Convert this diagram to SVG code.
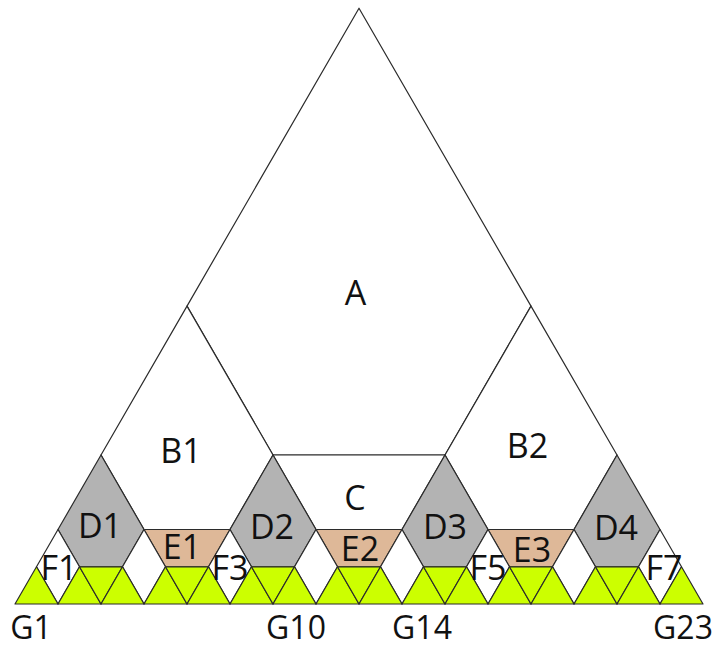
<svg xmlns="http://www.w3.org/2000/svg" width="717" height="648" viewBox="0 0 717 648">
<style>
.w{fill:#ffffff;stroke:#2b2b2b;stroke-width:1.2;stroke-linejoin:round}
.d{fill:#b3b3b3;stroke:#2b2b2b;stroke-width:1.2;stroke-linejoin:round}
.e{fill:#deb898;stroke:#2b2b2b;stroke-width:1.2;stroke-linejoin:round}
.g{fill:#ccff00;stroke:#2b2b2b;stroke-width:1.2;stroke-linejoin:round}
text{font-family:"Open Sans","Liberation Sans",sans-serif;font-size:34px;fill:#111;text-anchor:middle}
text.gl{font-size:32px}
</style>
<rect width="717" height="648" fill="#ffffff"/>
<g id="A"><polygon class="w" points="359,8.2 531,306.1 445,455 273,455 187,306.1"/><text x="355.5" y="305">A</text></g>
<g id="B1"><polygon class="w" points="187,306.1 273,455 230,529.5 144,529.5 101,455"/><text x="181" y="463">B1</text></g>
<g id="B2"><polygon class="w" points="531,306.1 617,455 574,529.5 488,529.5 445,455"/><text x="527.5" y="458">B2</text></g>
<g id="C"><polygon class="w" points="273,455 445,455 402,529.5 316,529.5"/><text x="355" y="510">C</text></g>
<g id="D1"><polygon class="d" points="101,455 144,529.5 122.5,566.8 79.5,566.8 58,529.5"/><text x="100" y="538">D1</text></g>
<g id="D2"><polygon class="d" points="273,455 316,529.5 294.5,566.8 251.5,566.8 230,529.5"/><text x="272" y="539">D2</text></g>
<g id="D3"><polygon class="d" points="445,455 488,529.5 466.5,566.8 423.5,566.8 402,529.5"/><text x="445" y="539">D3</text></g>
<g id="D4"><polygon class="d" points="617,455 660,529.5 638.5,566.8 595.5,566.8 574,529.5"/><text x="616" y="540">D4</text></g>
<g id="E1"><polygon class="e" points="144,529.5 230,529.5 208.5,566.8 165.5,566.8"/><text x="182" y="559">E1</text></g>
<g id="E2"><polygon class="e" points="316,529.5 402,529.5 380.5,566.8 337.5,566.8"/><text x="360" y="561">E2</text></g>
<g id="E3"><polygon class="e" points="488,529.5 574,529.5 552.5,566.8 509.5,566.8"/><text x="532" y="562">E3</text></g>
<g id="F1"><polygon class="w" points="58,529.5 79.5,566.8 58,604 36.5,566.8"/></g>
<g id="F2"><polygon class="w" points="144,529.5 165.5,566.8 144,604 122.5,566.8"/></g>
<g id="F3"><polygon class="w" points="230,529.5 251.5,566.8 230,604 208.5,566.8"/></g>
<g id="F4"><polygon class="w" points="316,529.5 337.5,566.8 316,604 294.5,566.8"/></g>
<g id="F5"><polygon class="w" points="402,529.5 423.5,566.8 402,604 380.5,566.8"/></g>
<g id="F6"><polygon class="w" points="488,529.5 509.5,566.8 488,604 466.5,566.8"/></g>
<g id="F7"><polygon class="w" points="574,529.5 595.5,566.8 574,604 552.5,566.8"/></g>
<g id="F8"><polygon class="w" points="660,529.5 681.5,566.8 660,604 638.5,566.8"/></g>
<g id="G">
<polygon class="g" points="15,604 58,604 36.5,566.8"/>
<polygon class="g" points="58,604 101,604 79.5,566.8"/>
<polygon class="g" points="79.5,566.8 122.5,566.8 101,604"/>
<polygon class="g" points="101,604 144,604 122.5,566.8"/>
<polygon class="g" points="144,604 187,604 165.5,566.8"/>
<polygon class="g" points="165.5,566.8 208.5,566.8 187,604"/>
<polygon class="g" points="187,604 230,604 208.5,566.8"/>
<polygon class="g" points="230,604 273,604 251.5,566.8"/>
<polygon class="g" points="251.5,566.8 294.5,566.8 273,604"/>
<polygon class="g" points="273,604 316,604 294.5,566.8"/>
<polygon class="g" points="316,604 359,604 337.5,566.8"/>
<polygon class="g" points="337.5,566.8 380.5,566.8 359,604"/>
<polygon class="g" points="359,604 402,604 380.5,566.8"/>
<polygon class="g" points="402,604 445,604 423.5,566.8"/>
<polygon class="g" points="423.5,566.8 466.5,566.8 445,604"/>
<polygon class="g" points="445,604 488,604 466.5,566.8"/>
<polygon class="g" points="488,604 531,604 509.5,566.8"/>
<polygon class="g" points="509.5,566.8 552.5,566.8 531,604"/>
<polygon class="g" points="531,604 574,604 552.5,566.8"/>
<polygon class="g" points="574,604 617,604 595.5,566.8"/>
<polygon class="g" points="595.5,566.8 638.5,566.8 617,604"/>
<polygon class="g" points="617,604 660,604 638.5,566.8"/>
<polygon class="g" points="660,604 703,604 681.5,566.8"/>
</g>
<g id="labels">
<text x="59" y="580">F1</text>
<text x="230" y="580">F3</text>
<text x="488" y="580">F5</text>
<text x="664" y="580">F7</text>
<text class="gl" x="31" y="639">G1</text>
<text class="gl" x="296" y="639">G10</text>
<text class="gl" x="422" y="639">G14</text>
<text class="gl" x="683" y="639">G23</text>
</g>
</svg>
